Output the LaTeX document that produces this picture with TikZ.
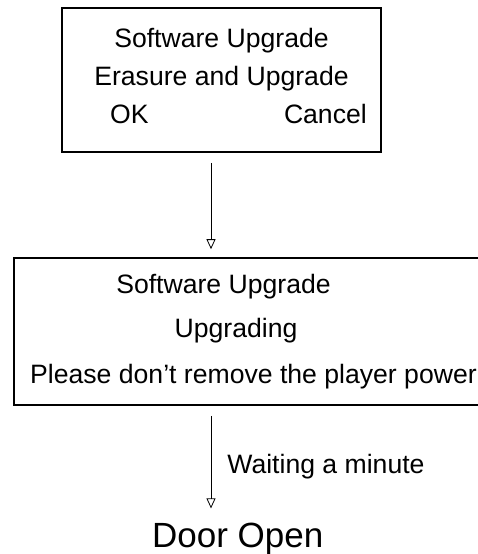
\documentclass[tikz,border=0pt]{standalone}
\usepackage{fontspec}
\setmainfont{Liberation Sans}
\usetikzlibrary{arrows.meta,positioning}

\begin{document}
\begin{tikzpicture}[x=1pt, y=-1pt,
  panel/.style={draw=black, line width=1.6pt, inner sep=0pt},
  txt/.style={inner sep=0pt, font=\fontsize{26.6}{30}\selectfont, anchor=base},
  big/.style={inner sep=0pt, font=\fontsize{35}{40}\selectfont, anchor=base west},
  flow/.style={-{Triangle[open, length=10pt, width=9pt]}, line width=0.8pt}
]
\useasboundingbox (0,0) rectangle (478,554);
\clip (0,0) rectangle (478,554);

% first screen
\node[panel, minimum width=319pt, minimum height=144pt] (b1) at (221.5,80) {};
\node[txt] (t11) at (221.5,47) {Software Upgrade};
\node[txt] (t12) at (221.5,85) {Erasure and Upgrade};
\node[txt, anchor=base west] (ok) at (110,123) {OK};
\node[txt, anchor=base east] (cancel) at (367,123) {Cancel};

% second screen
\node[panel, minimum width=486pt, minimum height=147pt] (b2) at (257,331.5) {};
\node[txt] (t21) at (223.5,293) {Software Upgrade};
\node[txt] (t22) at (236,337) {Upgrading};
\node[txt, anchor=base west] (t23) at (30,383) {Please don’t remove the player power};

% result
\node[big] (door) at (152,547) {Door Open};
\coordinate (ax) at (211,0);

\draw[flow, shorten <=10pt, shorten >=8pt] (b1.south -| ax) -- (b2.north -| ax);
\draw[flow, shorten <=10pt, shorten >=14pt] (b2.south -| ax) -- (ax |- door.north)
  node[txt, anchor=base west, pos=0.5, xshift=16pt, yshift=-9pt] (wait) {Waiting a minute};
\end{tikzpicture}
\end{document}
